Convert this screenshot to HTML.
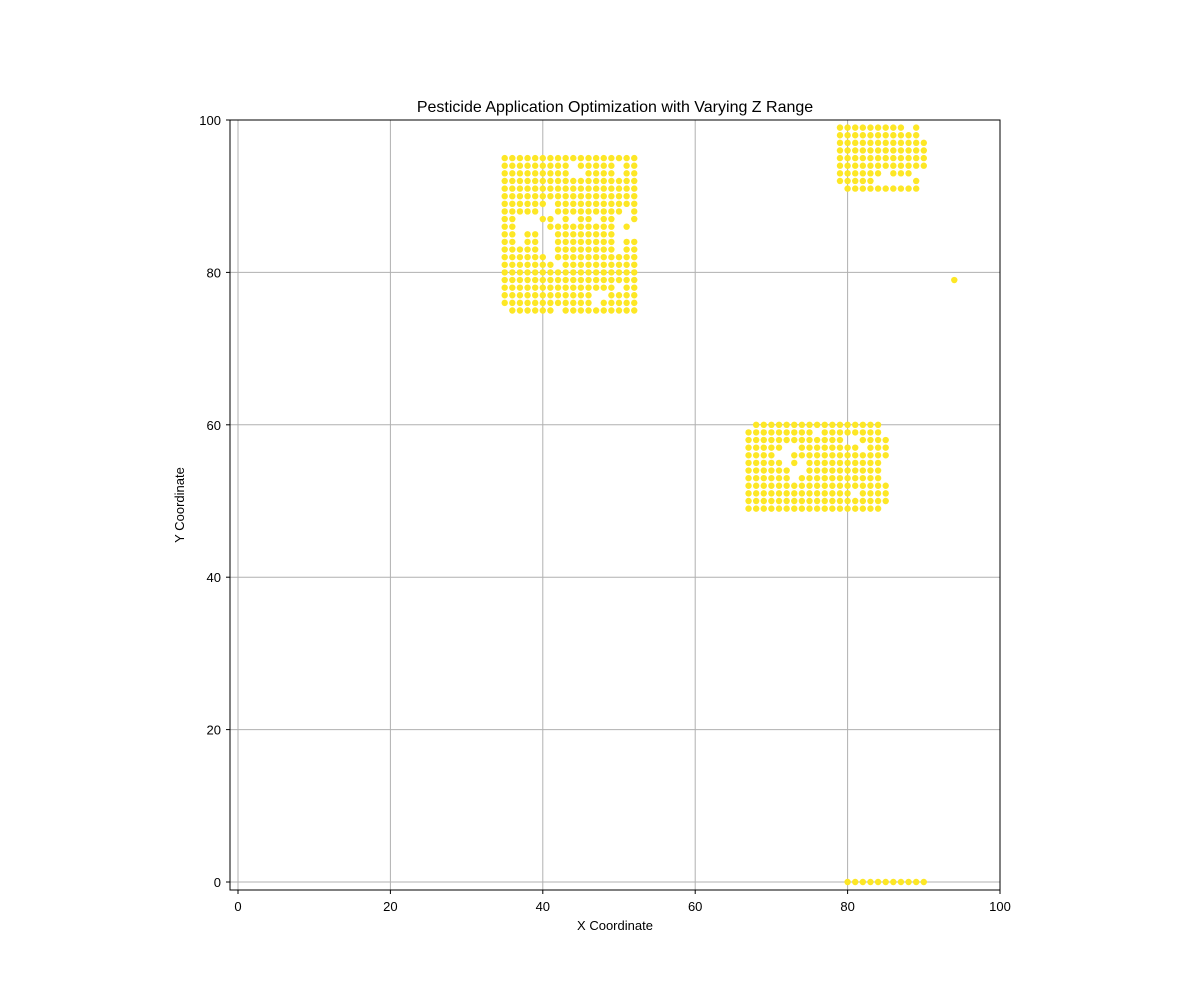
<!DOCTYPE html>
<html><head><meta charset="utf-8"><style>
body{margin:0;background:#fff;font-family:"Liberation Sans",sans-serif}
svg text{font-family:"Liberation Sans",sans-serif;fill:#000}
</style></head><body>
<svg id="chart" width="1200" height="1000" xmlns="http://www.w3.org/2000/svg">
<rect width="1200" height="1000" fill="#fff"/>
<g id="grid"></g>
<g id="points"></g>
<rect x="230" y="120" width="770" height="770" fill="none" stroke="#000" stroke-width="1"/>
<g id="ticks"></g>
<text x="615" y="112" font-size="16" text-anchor="middle">Pesticide Application Optimization with Varying Z Range</text>
<text x="615" y="930" font-size="13" text-anchor="middle">X Coordinate</text>
<text x="184" y="505" font-size="13" text-anchor="middle" transform="rotate(-90 184 505)">Y Coordinate</text>
</svg>
<script>
const xTicks=[0,20,40,60,80,100];
const yTicks=[0,20,40,60,80,100];
const blockA={x0:35,yTop:95,rows:["111111111111111111","111111111011111011","111111111001111011","111111111111111111","111111111111111111","111111111111111111","111111011111111111","111110011111111101","110001101011011001","110000111111111010","110110011111111000","110110011111111011","111110011111111011","111111011111111111","111111101111111111","111111111111111111","111111111111111111","111111111111111011","111111111111001111","111111111111011111","011111101111111111"]};
const blockB={x0:67,yTop:60,rows:["0111111111111111110","1111111110111111110","1111111111111001111","1111100111111110111","1111001111111111111","1111101011111111110","1111110011111111110","1111110111111111110","1111111111111111111","1111111111111101111","1111111111111111111","1111111111111111110"]};
const blockC={x0:79,yTop:99,rows:["111111111010","111111111110","111111111111","111111111111","111111111111","111111111111","111111011100","111110000010","011111111110"]};
const blockD={x0:80,yTop:0,rows:["11111111111"]};
const extraX=[94];
const extraY=[79];
const X=v=>238+(v)*7.62;
const Y=v=>882-(v)*7.62;
const NS="http://www.w3.org/2000/svg";
const grid=document.getElementById('grid'),ticks=document.getElementById('ticks'),pts=document.getElementById('points');
xTicks.forEach(t=>{
 const l=document.createElementNS(NS,'line');l.setAttribute('x1',X(t));l.setAttribute('x2',X(t));l.setAttribute('y1',120);l.setAttribute('y2',890);l.setAttribute('stroke','#b0b0b0');l.setAttribute('stroke-width','1');
 
 
 grid.appendChild(l);
 const tk=document.createElementNS(NS,'line');tk.setAttribute('x1',X(t));tk.setAttribute('x2',X(t));tk.setAttribute('y1',890);tk.setAttribute('y2',894);tk.setAttribute('stroke','#000');
 
 
 ticks.appendChild(tk);
 const tx=document.createElementNS(NS,'text');tx.setAttribute('x',X(t));tx.setAttribute('y',911);tx.setAttribute('font-size','13');tx.setAttribute('text-anchor','middle');tx.textContent=t;
 
 
 ticks.appendChild(tx);
});
yTicks.forEach(t=>{
 const l=document.createElementNS(NS,'line');l.setAttribute('y1',Y(t));l.setAttribute('y2',Y(t));l.setAttribute('x1',230);l.setAttribute('x2',1000);l.setAttribute('stroke','#b0b0b0');l.setAttribute('stroke-width','1');
 
 
 grid.appendChild(l);
 const tk=document.createElementNS(NS,'line');tk.setAttribute('y1',Y(t));tk.setAttribute('y2',Y(t));tk.setAttribute('x1',226);tk.setAttribute('x2',230);tk.setAttribute('stroke','#000');
 
 
 ticks.appendChild(tk);
 const tx=document.createElementNS(NS,'text');tx.setAttribute('x',221);tx.setAttribute('y',Y(t)+5);tx.setAttribute('font-size','13');tx.setAttribute('text-anchor','end');tx.textContent=t;
 
 
 ticks.appendChild(tx);
});
function dot(x,y){
 const c=document.createElementNS(NS,'circle');c.setAttribute('cx',X(x));c.setAttribute('cy',Y(y));c.setAttribute('r',3.2);c.setAttribute('fill','#fde725');
 
 
 pts.appendChild(c);
}
[blockA,blockB,blockC,blockD].forEach(b=>{
 b.rows.forEach((r,i)=>{for(let j=0;j<r.length;j++){if(r[j]==='1')dot(b.x0+j,b.yTop-i);}});
});
extraX.forEach((x,i)=>dot(x,extraY[i]));
</script>
</body></html>
